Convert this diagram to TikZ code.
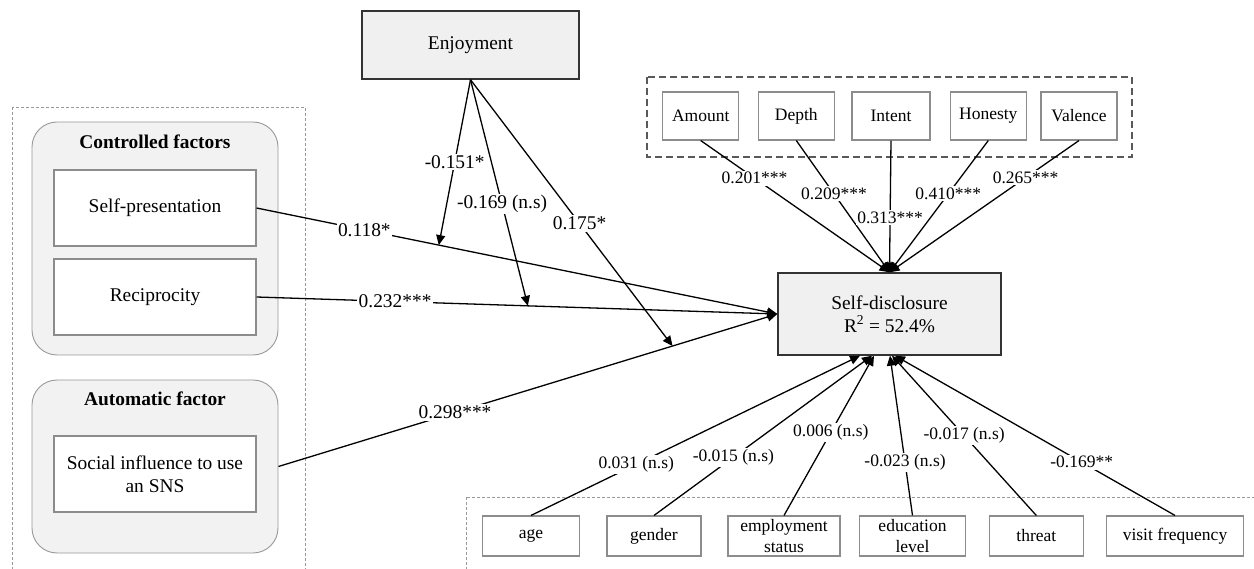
\documentclass[tikz,border=0pt]{standalone}
\usepackage{fontspec}
\setmainfont{Liberation Serif}
\usetikzlibrary{arrows.meta,calc}
\definecolor{boxfill}{HTML}{F0F0F0}
\definecolor{contfill}{HTML}{F2F2F2}
\tikzset{
  bigfont/.style={font=\fontsize{19.4}{23.3}\selectfont},
  smallfont/.style={font=\fontsize{17.5}{20.7}\selectfont},
  mainbox/.style={draw=black!80, line width=1.4pt, fill=boxfill, bigfont, align=center, inner sep=0pt},
  inbox/.style={draw=black!45, line width=1.1pt, fill=white, align=center, inner sep=0pt},
  container/.style={draw=black!40, line width=0.9pt, fill=contfill, rounded corners=25pt, inner sep=0pt},
  conn/.style={line width=1.3pt, black},
  arr/.style={conn, -{Triangle[length=10pt,width=9pt]}},
  lab/.style={fill=white, inner sep=1.5pt},
  graydash/.style={draw=black!40, line width=0.8pt, dash pattern=on 3pt off 2pt},
  darkdash/.style={draw=black!65, line width=1.1pt, dash pattern=on 7pt off 4pt},
}
\begin{document}
\begin{tikzpicture}[x=1pt,y=-1pt]
\useasboundingbox (0,0) rectangle (1254,569);
\clip (0,0) rectangle (1254,569);
\fill[white] (0,0) rectangle (1254,569);

% dashed frames
\draw[graydash] (12,107) rectangle (305,600);
\draw[graydash] (466,497) rectangle (1300,600);
\draw[darkdash] (647,77) rectangle (1132,157);

% left containers
\node[container, minimum width=246pt, minimum height=233pt] (ctrl) at (155,238.5) {};
\node[font=\fontsize{19.4}{23.3}\selectfont\bfseries] (ctrlt) at (155,142) {Controlled factors};
\node[inbox, bigfont, minimum width=202pt, minimum height=76pt] (sp) at (155,208) {Self-presentation};
\node[inbox, bigfont, minimum width=202pt, minimum height=76pt] (rc) at (155,297) {Reciprocity};

\node[container, minimum width=246pt, minimum height=173pt] (auto) at (155,466.5) {};
\node[font=\fontsize{19.4}{23.3}\selectfont\bfseries] (autot) at (155,399) {Automatic factor};
\node[inbox, bigfont, minimum width=202pt, minimum height=76pt] (si) at (155,474) {Social influence to use\\an SNS};

% main boxes
\node[mainbox, minimum width=217pt, minimum height=68pt] (enj) at (470.5,45) {Enjoyment};
\node[mainbox, minimum width=223pt, minimum height=82pt] (sd) at (889.5,314) {Self-disclosure\\R\textsuperscript{2} = 52.4\%};

% top boxes
\node[inbox, smallfont, minimum width=76pt, minimum height=48pt] (amount) at (700.7,116) {Amount};
\node[inbox, smallfont, minimum width=76pt, minimum height=48pt] (depth) at (796.3,116) {Depth};
\node[inbox, smallfont, minimum width=78pt, minimum height=48pt] (intent) at (891,116) {Intent};
\node[inbox, smallfont, minimum width=76pt, minimum height=48pt] (honesty) at (988.3,116) {Honesty};
\node[inbox, smallfont, minimum width=76pt, minimum height=48pt] (valence) at (1079,116) {Valence};

% bottom boxes
\node[inbox, smallfont, minimum width=97pt, minimum height=40pt] (age) at (531,536) {age};
\node[inbox, smallfont, minimum width=94pt, minimum height=40pt] (gender) at (654,536) {gender};
\node[inbox, smallfont, minimum width=112pt, minimum height=40pt] (employ) at (784,536) {employment\\status};
\node[inbox, smallfont, minimum width=106pt, minimum height=40pt] (educ) at (912.5,536) {education\\level};
\node[inbox, smallfont, minimum width=94pt, minimum height=40pt] (threat) at (1036.3,536) {threat};
\node[inbox, smallfont, minimum width=137pt, minimum height=40pt] (visit) at (1175,536) {visit frequency};

% main paths
\draw[arr] (sp.east) -- node[lab, bigfont, pos=0.207] {0.118*} (sd.west);
\draw[arr] (rc.east) -- node[lab, bigfont, pos=0.266] {0.232***} (sd.west);
\draw[arr] (auto.east) -- node[lab, bigfont, pos=0.354] {0.298***} (sd.west);

% moderation
\coordinate (m1) at ($(sp.east)!0.35!(sd.west)$);
\coordinate (m2) at ($(rc.east)!0.521!(sd.west)$);
\coordinate (m3) at ($(auto.east)!0.79!(sd.west)$);
\draw[arr] (enj.south) -- node[lab, bigfont, pos=0.5] {-0.151*} (m1);
\draw[arr] (enj.south) -- node[lab, bigfont, pos=0.55] {-0.169 (n.s)} (m2);
\draw[arr] (enj.south) -- node[lab, bigfont, pos=0.54] {0.175*} (m3);

% top indicators
\draw[arr] (amount.south) -- node[lab, smallfont, pos=0.285] {0.201***} (sd.north);
\draw[arr] (depth.south) -- node[lab, smallfont, pos=0.405] {0.209***} (sd.north);
\draw[arr] (intent.south) -- node[lab, smallfont, pos=0.585] {0.313***} (sd.north);
\draw[arr] (honesty.south) -- node[lab, smallfont, pos=0.405] {0.410***} (sd.north);
\draw[arr] (valence.south) -- node[lab, smallfont, pos=0.282] {0.265***} (sd.north);

% controls
\draw[arr] (age.north) -- node[lab, smallfont, pos=0.32] {0.031 (n.s)} ([xshift=-29.5pt]sd.south);
\draw[arr] (gender.north) -- node[lab, smallfont, pos=0.364] {-0.015 (n.s)} ([xshift=-17.5pt]sd.south);
\draw[arr] (employ.north) -- node[lab, smallfont, pos=0.52] {0.006 (n.s)} ([xshift=-15.5pt]sd.south);
\draw[arr] (educ.north) -- node[lab, smallfont, pos=0.33] {-0.023 (n.s)} ([xshift=0.5pt]sd.south);
\draw[arr] (threat.north) -- node[lab, smallfont, pos=0.5] {-0.017 (n.s)} ([xshift=2.5pt]sd.south);
\draw[arr] (visit.north) -- node[lab, smallfont, pos=0.333] {-0.169**} ([xshift=5.5pt]sd.south);
\end{tikzpicture}
\end{document}
